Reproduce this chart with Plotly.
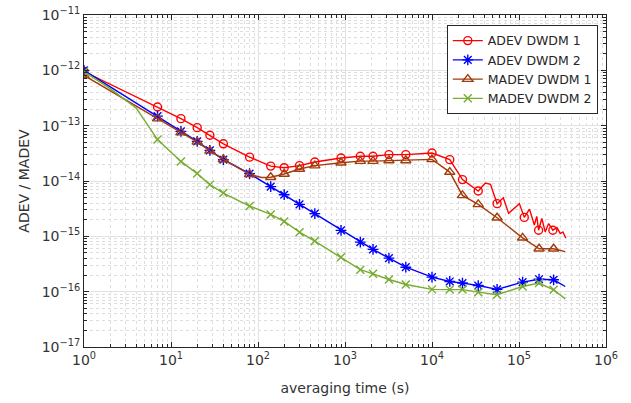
import plotly.graph_objects as go

# ---------------- data ----------------
tau_adev1 = [1, 7, 13, 20, 28, 40, 80, 140, 200, 300, 450, 900, 1500, 2100, 3200, 5000,
             10000, 16000, 22400, 34000, 41000, 47000, 56000, 66000, 76000, 101000, 115000,
             132000, 150000, 160000, 168000, 183000, 200000, 219000, 245000, 273000, 298000,
             320000, 345000]
adev1 = [9.5e-13, 2.17e-13, 1.34e-13, 9.2e-14, 6.7e-14, 4.7e-14, 2.7e-14, 1.86e-14, 1.74e-14,
         1.9e-14, 2.2e-14, 2.6e-14, 2.8e-14, 2.8e-14, 3.0e-14, 3.0e-14,
         3.2e-14, 2.43e-14, 1.06e-14, 6.6e-15, 9.2e-15, 8.7e-15, 3.9e-15, 5.0e-15, 2.6e-15,
         3.9e-15, 2.2e-15, 3.1e-15, 1.6e-15, 2.3e-15, 1.29e-15, 2.1e-15, 1.2e-15, 1.7e-15,
         1.29e-15, 1.44e-15, 1.12e-15, 1.2e-15, 9.3e-16]
mk_adev1 = [1, 7, 13, 20, 28, 40, 80, 140, 200, 300, 450, 900, 1500, 2100, 3200, 5000,
            10000, 16000, 22400, 34000, 56000, 115000, 168000, 245000]

tau_adev2 = [1, 7, 13, 20, 28, 40, 80, 140, 200, 300, 450, 900, 1500, 2100, 3200, 5000,
             10000, 16000, 22400, 34000, 56000, 110000, 170000, 250000, 340000]
adev2 = [1.0e-12, 1.49e-13, 7.9e-14, 5.2e-14, 3.57e-14, 2.43e-14, 1.36e-14, 7.9e-15, 5.65e-15,
         3.78e-15, 2.57e-15, 1.28e-15, 7.85e-16, 5.8e-16, 4.04e-16, 2.77e-16,
         1.83e-16, 1.53e-16, 1.43e-16, 1.29e-16, 1.1e-16, 1.49e-16, 1.68e-16, 1.64e-16, 1.24e-16]
mk_adev2 = tau_adev2[:-1]

tau_madev1 = [1, 7, 13, 20, 28, 40, 80, 110, 140, 200, 300, 450, 900, 1500, 2100, 3200, 5000,
              10000, 16000, 22400, 34000, 56000, 110000, 170000, 250000, 340000]
madev1 = [8.1e-13, 1.34e-13, 7.5e-14, 5.1e-14, 3.5e-14, 2.45e-14, 1.32e-14, 1.16e-14, 1.17e-14,
          1.34e-14, 1.65e-14, 1.9e-14, 2.14e-14, 2.29e-14, 2.29e-14, 2.35e-14, 2.35e-14,
          2.46e-14, 1.45e-14, 5.5e-15, 3.78e-15, 2.17e-15, 9.4e-16, 5.96e-16, 5.96e-16, 5.3e-16]
mk_madev1 = [1, 7, 13, 20, 28, 40, 80, 140, 200, 300, 450, 900, 1500, 2100, 3200, 5000,
             10000, 16000, 22400, 34000, 56000, 110000, 170000, 250000]

tau_madev2 = [1, 2, 4, 7, 13, 20, 28, 40, 80, 140, 200, 300, 450, 900, 1500, 2100, 3200, 5000,
              10000, 16000, 22400, 34000, 56000, 110000, 170000, 250000, 340000]
madev2 = [9.5e-13, 4.67e-13, 2.06e-13, 5.6e-14, 2.26e-14, 1.36e-14, 8.6e-15, 6.05e-15, 3.52e-15,
          2.49e-15, 1.86e-15, 1.19e-15, 8.2e-16, 4.2e-16, 2.5e-16, 2.1e-16, 1.66e-16, 1.35e-16,
          1.1e-16, 1.09e-16, 1.09e-16, 9.8e-17, 8.8e-17, 1.24e-16, 1.43e-16, 1.08e-16, 7.4e-17]
mk_madev2 = [1, 7, 13, 20, 28, 40, 80, 140, 200, 300, 450, 900, 1500, 2100, 3200, 5000,
             10000, 16000, 22400, 34000, 56000, 110000, 170000, 250000]

series_names = ["ADEV DWDM 1", "ADEV DWDM 2", "MADEV DWDM 1", "MADEV DWDM 2"]

x_tickvals = [1, 10, 100, 1e3, 1e4, 1e5, 1e6]
x_ticktext = ["10<sup>0</sup>", "10<sup>1</sup>", "10<sup>2</sup>", "10<sup>3</sup>",
              "10<sup>4</sup>", "10<sup>5</sup>", "10<sup>6</sup>"]
y_tickvals = [1e-17, 1e-16, 1e-15, 1e-14, 1e-13, 1e-12, 1e-11]
y_ticktext = ["10<sup>−17</sup>", "10<sup>−16</sup>", "10<sup>−15</sup>", "10<sup>−14</sup>",
              "10<sup>−13</sup>", "10<sup>−12</sup>", "10<sup>−11</sup>"]

# ---------------- styling ----------------
colors = ["#ff0000", "#0000ff", "#a23c0c", "#77ac30"]
symbols = ["circle-open", "asterisk-open", "triangle-up-open", "x-thin-open"]
msizes = [8, 9, 9, 8]
FONT = "DejaVu Sans"
TXT = "#333333"

data = [(tau_adev1, adev1, mk_adev1), (tau_adev2, adev2, mk_adev2),
        (tau_madev1, madev1, mk_madev1), (tau_madev2, madev2, mk_madev2)]

fig = go.Figure()
for (t, v, mk), name, c, s, ms in zip(data, series_names, colors, symbols, msizes):
    lookup = dict(zip(t, v))
    mx = [tt for tt in mk if tt in lookup]
    my = [lookup[tt] for tt in mx]
    fig.add_trace(go.Scatter(x=t, y=v, mode="lines", line=dict(color=c, width=1.4),
                             showlegend=False, hoverinfo="skip"))
    fig.add_trace(go.Scatter(x=mx, y=my, mode="markers", showlegend=False,
                             marker=dict(symbol=s, size=ms, color=c, line=dict(color=c, width=1.4))))
# legend entries
for name, c, s, ms in zip(series_names, colors, symbols, msizes):
    fig.add_trace(go.Scatter(x=[None], y=[None], mode="lines+markers", name=name,
                             line=dict(color=c, width=1.4),
                             marker=dict(symbol=s, size=ms, color=c, line=dict(color=c, width=1.4))))

axis_common = dict(
    type="log", showline=True, linecolor="#262626", linewidth=1, mirror="ticks",
    ticks="inside", ticklen=5, tickcolor="#262626", automargin=False,
    ticklabeloverflow="allow",
    showgrid=True, gridcolor="#e2e2e2", gridwidth=1, zeroline=False,
    tickfont=dict(family=FONT, size=14, color=TXT),
    minor=dict(ticks="inside", ticklen=3, tickcolor="#262626", showgrid=True,
               gridcolor="#dedede", griddash="dot", gridwidth=1, dtick="D1"),
)

fig.update_xaxes(**axis_common, range=[0, 6], tickvals=x_tickvals, ticktext=x_ticktext,
                 title=dict(text="averaging time (s)", standoff=16,
                            font=dict(family=FONT, size=14, color=TXT)))
fig.update_yaxes(**axis_common, range=[-17, -11], tickvals=y_tickvals, ticktext=y_ticktext,
                 title=dict(text="ADEV / MADEV", standoff=8,
                            font=dict(family=FONT, size=14, color=TXT)))

fig.update_layout(
    width=631, height=403,
    margin=dict(l=84, r=25, t=15, b=56),
    paper_bgcolor="white", plot_bgcolor="white",
    font=dict(family=FONT, size=12, color=TXT),
    legend=dict(x=0.695, y=0.97, xanchor="left", yanchor="top",
                bgcolor="white", bordercolor="#262626", borderwidth=1,
                font=dict(family=FONT, size=12.5, color="#262626"),
                tracegroupgap=0, itemwidth=30),
)

# remove the default 8px page margin so the figure sits at the window origin
fig.write_html("out.html", config={"displayModeBar": False},
               post_script="document.body.style.margin='0px';")
